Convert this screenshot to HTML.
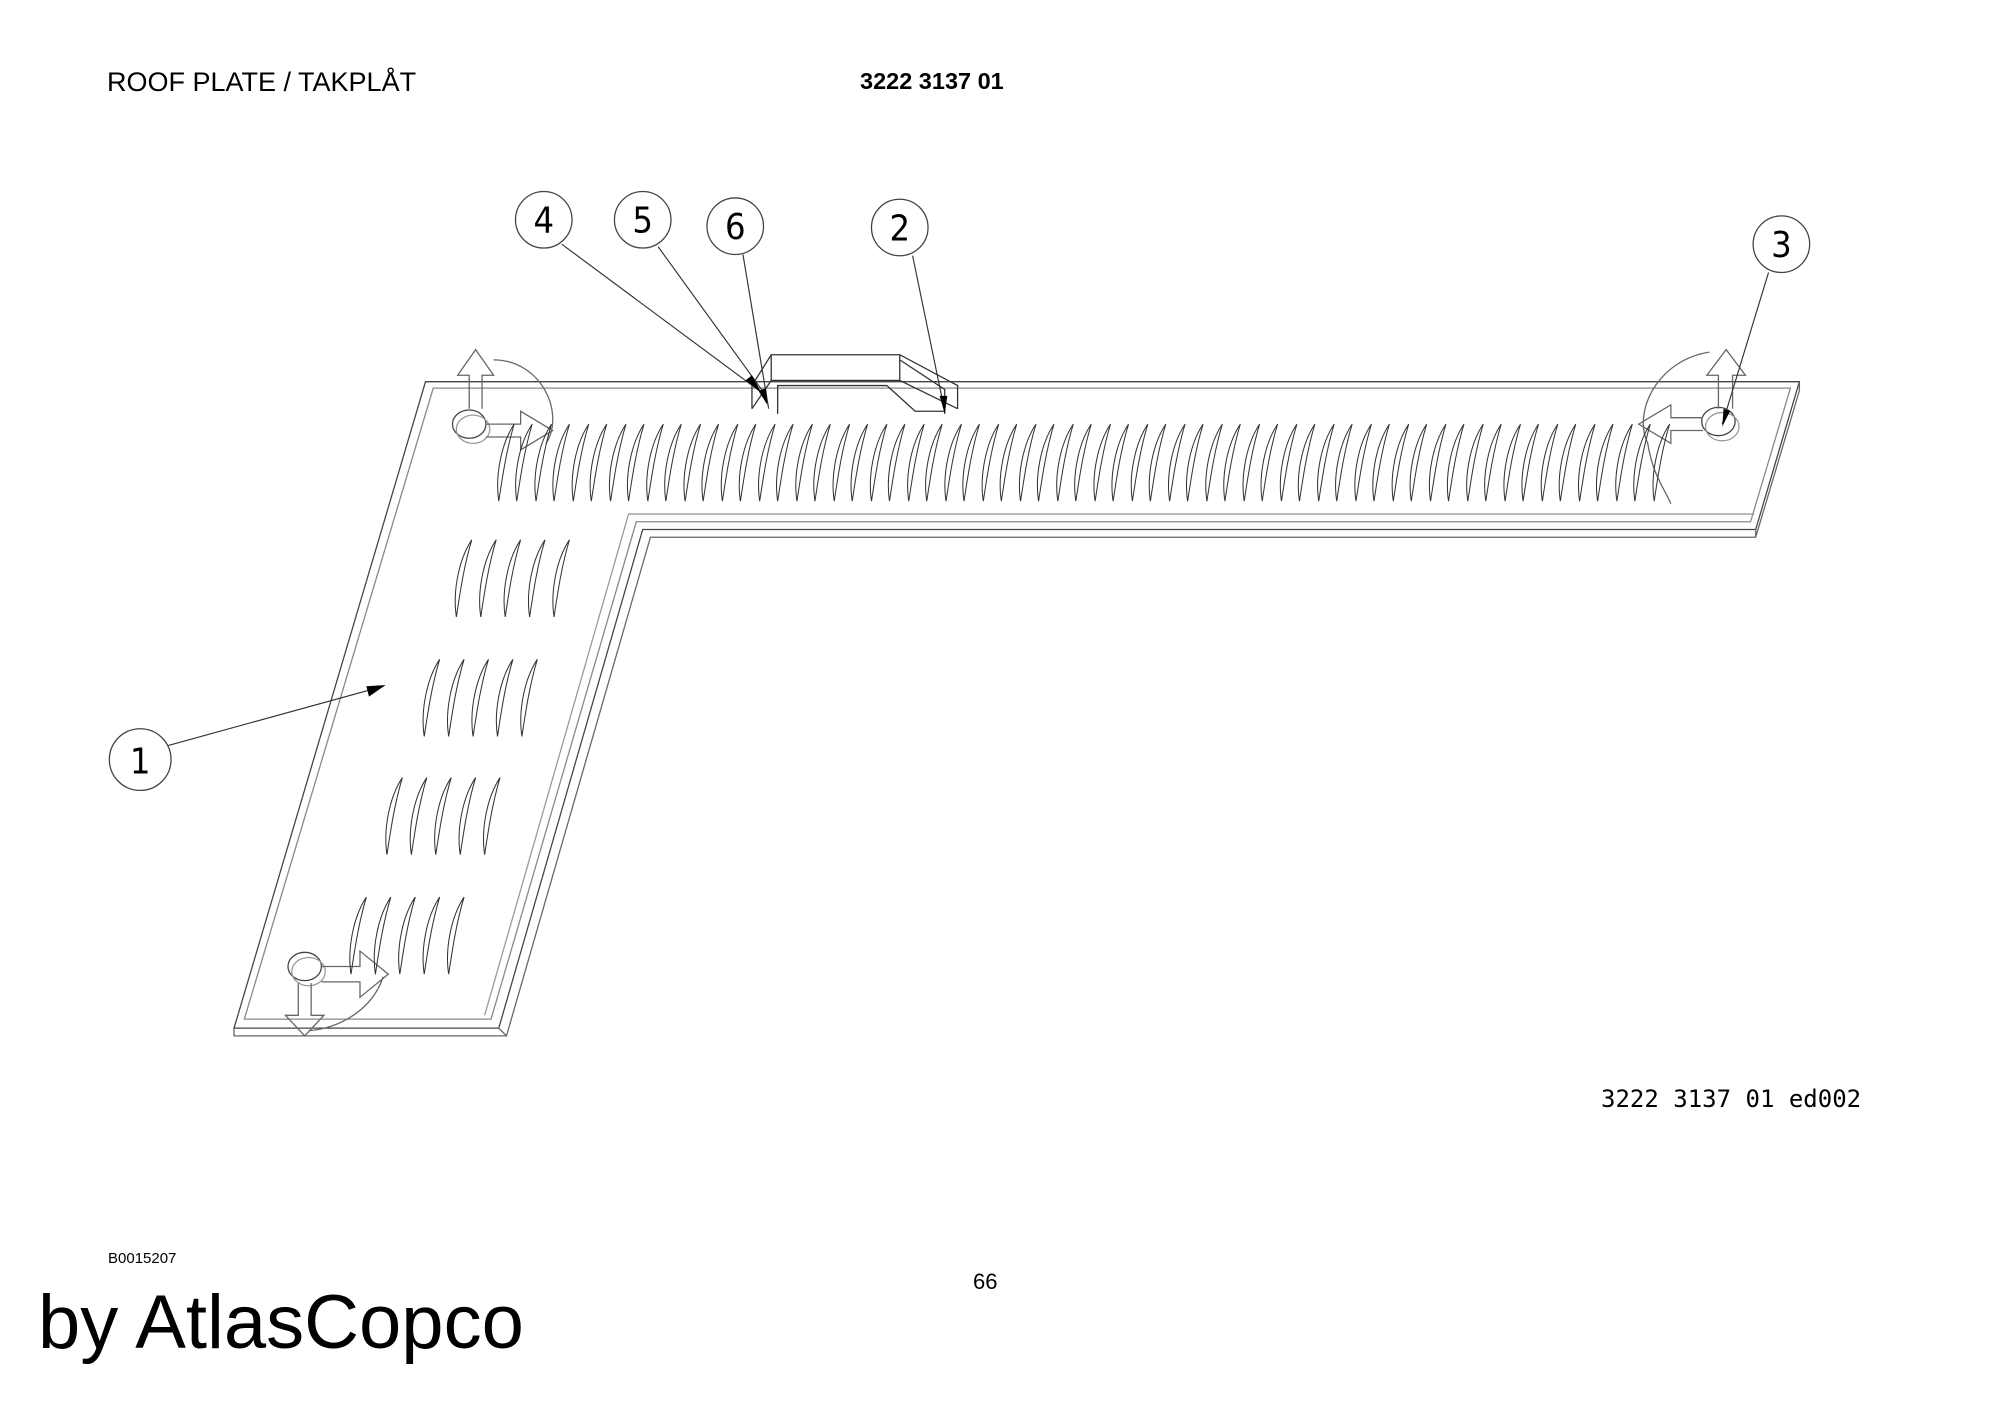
<!DOCTYPE html>
<html><head><meta charset="utf-8"><style>
html,body{margin:0;padding:0;background:#fff}
body{width:2000px;height:1415px;position:relative;overflow:hidden;font-family:"Liberation Sans",sans-serif}
.t{position:absolute;white-space:nowrap;color:#000}
svg{position:absolute;left:0;top:0}
</style></head><body>
<svg width="2000" height="1415" viewBox="0 0 1556 1101">
<defs>
<path id="s" d="M0,60 C-3,40 2,15 12,0 C6,20 3,40 0,60 Z" fill="none" stroke="#333" stroke-width="0.8"/>
</defs>
<g fill="none" stroke="#444" stroke-width="1">
<path d="M331,297 L1400,297 L1366,412 L500,412 L388,800 L182,800 L331,297 Z"/>
<path d="M337,302 L1393,302 L1362,406 L495,406 L382,793 L190,793 Z" stroke="#888"/>
<path d="M1400,297 L1400,304 L1366,418 L506,418 L394,806 L182,806 L182,800 M1366,412 L1366,418 M388,800 L394,806" stroke="#666"/>
<path d="M489,400 L1365,400 M489,400 L377,790" stroke="#999"/>
<path d="M585,318 L585,300 L600,276 L700,276 L745,300 L745,318" stroke="#333"/>
<path d="M600,276 L600,296 L700,296 L745,318 M600,296 L585,318 M605,322 L605,300 L690,300 L712,320 L735,320 M700,276 L700,296" stroke="#333"/>
<path d="M700,280 L735,303 L735,322" stroke="#333"/>
<ellipse cx="365" cy="330" rx="13" ry="11"/><ellipse cx="1337" cy="328" rx="13" ry="11"/><ellipse cx="237" cy="752" rx="13" ry="11"/>
<ellipse cx="368" cy="334" rx="13" ry="11" stroke="#999"/><ellipse cx="1340" cy="332" rx="13" ry="11" stroke="#999"/><ellipse cx="240" cy="756" rx="13" ry="11" stroke="#999"/>
<path d="M365,318 L365,292 L356,292 L370,272 L384,292 L375,292 L375,318 M378,330 L405,330 L405,320 L430,335 L405,350 L405,340 L378,340 M384,280 C420,280 440,320 425,345" stroke="#666"/>
<path d="M1337,318 L1337,292 L1328,292 L1343,272 L1358,292 L1348,292 L1348,318 M1325,325 L1300,325 L1300,315 L1275,330 L1300,345 L1300,335 L1325,335 M1330,274 C1290,280 1270,320 1282,345 C1286,370 1295,380 1300,392" stroke="#666"/>
<path d="M250,752 L280,752 L280,740 L302,758 L280,776 L280,764 L250,764 M232,765 L232,790 L222,790 L237,806 L252,790 L242,790 L242,765 M298,760 C290,785 265,800 240,802" stroke="#666"/>
<path d="M437,190 L592,305 M512,192 L596,308 M578,198 L598,318 M710,199 L735,320 M1376,212 L1340,330 M131,580 L298,534" stroke="#333" stroke-width="0.9"/>
<circle cx="423" cy="171" r="22"/><circle cx="500" cy="171" r="22"/><circle cx="572" cy="176" r="22"/><circle cx="700" cy="177" r="22"/><circle cx="1386" cy="190" r="22"/><circle cx="109" cy="591" r="24"/>
</g>
<path d="M300,533 L285,534 L287,542 Z M592,305 L580,296 L585,292 Z M597,315 L590,304 L596,302 Z M735,322 L731,308 L737,308 Z M1340,332 L1341,318 L1346,320 Z" fill="#000"/>
<g font-family="DejaVu Sans Condensed, Liberation Sans Narrow, sans-serif" font-size="28" text-anchor="middle" fill="#000">
<text x="423" y="181">4</text><text x="500" y="181">5</text><text x="572" y="186">6</text><text x="700" y="187">2</text><text x="1386" y="200">3</text><text x="109" y="602">1</text>
</g>
<g>
<use href="#s" x="388" y="330"/><use href="#s" x="402" y="330"/><use href="#s" x="417" y="330"/><use href="#s" x="431" y="330"/><use href="#s" x="446" y="330"/><use href="#s" x="460" y="330"/><use href="#s" x="475" y="330"/><use href="#s" x="489" y="330"/><use href="#s" x="504" y="330"/><use href="#s" x="518" y="330"/><use href="#s" x="533" y="330"/><use href="#s" x="547" y="330"/><use href="#s" x="562" y="330"/><use href="#s" x="576" y="330"/><use href="#s" x="591" y="330"/><use href="#s" x="605" y="330"/><use href="#s" x="620" y="330"/><use href="#s" x="634" y="330"/><use href="#s" x="649" y="330"/><use href="#s" x="663" y="330"/><use href="#s" x="678" y="330"/><use href="#s" x="692" y="330"/><use href="#s" x="707" y="330"/><use href="#s" x="721" y="330"/><use href="#s" x="736" y="330"/><use href="#s" x="750" y="330"/><use href="#s" x="765" y="330"/><use href="#s" x="779" y="330"/><use href="#s" x="794" y="330"/><use href="#s" x="808" y="330"/><use href="#s" x="823" y="330"/><use href="#s" x="837" y="330"/><use href="#s" x="852" y="330"/><use href="#s" x="866" y="330"/><use href="#s" x="881" y="330"/><use href="#s" x="895" y="330"/><use href="#s" x="910" y="330"/><use href="#s" x="924" y="330"/><use href="#s" x="939" y="330"/><use href="#s" x="953" y="330"/><use href="#s" x="968" y="330"/><use href="#s" x="982" y="330"/><use href="#s" x="997" y="330"/><use href="#s" x="1011" y="330"/><use href="#s" x="1026" y="330"/><use href="#s" x="1040" y="330"/><use href="#s" x="1055" y="330"/><use href="#s" x="1069" y="330"/><use href="#s" x="1084" y="330"/><use href="#s" x="1098" y="330"/><use href="#s" x="1113" y="330"/><use href="#s" x="1127" y="330"/><use href="#s" x="1142" y="330"/><use href="#s" x="1156" y="330"/><use href="#s" x="1171" y="330"/><use href="#s" x="1185" y="330"/><use href="#s" x="1200" y="330"/><use href="#s" x="1214" y="330"/><use href="#s" x="1229" y="330"/><use href="#s" x="1243" y="330"/><use href="#s" x="1258" y="330"/><use href="#s" x="1272" y="330"/><use href="#s" x="1287" y="330"/>
</g>
<g>
<use href="#s" x="355" y="420"/><use href="#s" x="374" y="420"/><use href="#s" x="393" y="420"/><use href="#s" x="412" y="420"/><use href="#s" x="431" y="420"/>
<use href="#s" x="330" y="513"/><use href="#s" x="349" y="513"/><use href="#s" x="368" y="513"/><use href="#s" x="387" y="513"/><use href="#s" x="406" y="513"/>
<use href="#s" x="301" y="605"/><use href="#s" x="320" y="605"/><use href="#s" x="339" y="605"/><use href="#s" x="358" y="605"/><use href="#s" x="377" y="605"/>
<use href="#s" x="273" y="698"/><use href="#s" x="292" y="698"/><use href="#s" x="311" y="698"/><use href="#s" x="330" y="698"/><use href="#s" x="349" y="698"/>
</g>
</svg>
<div class="t" style="left:107px;top:67px;font-size:27px">ROOF PLATE / TAKPLÅT</div>
<div class="t" style="left:860px;top:68px;font-size:23.5px;font-weight:bold">3222 3137 01</div>
<div class="t" style="left:1601px;top:1085px;font-size:24px;font-family:'DejaVu Sans Mono','Liberation Mono',monospace">3222 3137 01 ed002</div>
<div class="t" style="left:108px;top:1250px;font-size:15px">B0015207</div>
<div class="t" style="left:973px;top:1269px;font-size:22px">66</div>
<div class="t" style="left:38px;top:1279px;font-size:76px">by AtlasCopco</div>
</body></html>
